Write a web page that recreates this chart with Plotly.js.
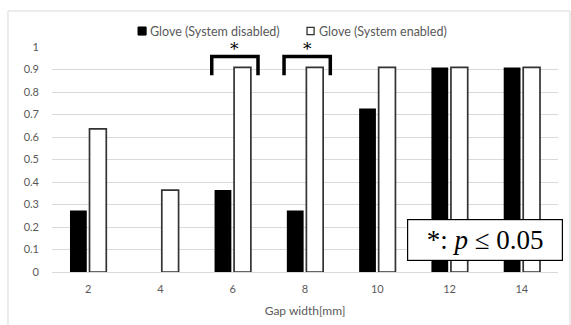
<!DOCTYPE html>
<html><head><meta charset="utf-8">
<script src="https://cdn.plot.ly/plotly-3.0.1.min.js"></script>
<style>body{margin:0;background:#fff}#c{width:571px;height:325px}</style>
</head><body><div id="c"></div>
<script>
var categories = ["2","4","6","8","10","12","14"];
var seriesNames = ["Glove (System disabled)", "Glove (System enabled)"];
var disabledValues = [0.273, 0, 0.364, 0.273, 0.727, 0.909, 0.909];
var enabledValues = [0.636, 0.364, 0.909, 0.909, 0.909, 0.909, 0.909];
var yTicks = [0,0.1,0.2,0.3,0.4,0.5,0.6,0.7,0.8,0.9,1];
var yTickLabels = ["0","0.1","0.2","0.3","0.4","0.5","0.6","0.7","0.8","0.9","1"];
var sigCategories = [2, 3];

var font = "Lato, 'Open Sans', sans-serif";
var traces = [
  {type:"bar", name:seriesNames[0], x:categories, y:disabledValues,
   marker:{color:"#000000", line:{color:"#000000", width:0}}},
  {type:"bar", name:seriesNames[1], x:categories, y:enabledValues,
   marker:{color:"#ffffff", line:{color:"#333333", width:1.7}}}
];
var shapes = [
  {type:"rect", xref:"paper", yref:"paper", x0:-0.087, x1:1.0237, y0:-0.25, y1:1.16,
   line:{color:"#d9d9d9", width:1}, fillcolor:"rgba(0,0,0,0)", layer:"below"},
  {type:"rect", xref:"paper", yref:"paper", x0:0.170, x1:0.186, y0:1.053, y1:1.089,
   line:{color:"#000", width:1}, fillcolor:"#000"},
  {type:"rect", xref:"paper", yref:"paper", x0:0.504, x1:0.518, y0:1.055, y1:1.087,
   line:{color:"#333", width:1.3}, fillcolor:"#fff"}
];
var annotations = [
  {xref:"paper", yref:"paper", x:0.190, y:1.071, xanchor:"left", yanchor:"middle", showarrow:false,
   text:seriesNames[0], font:{family:font, size:12.5, color:"#595959"}},
  {xref:"paper", yref:"paper", x:0.524, y:1.071, xanchor:"left", yanchor:"middle", showarrow:false,
   text:seriesNames[1], font:{family:font, size:12.5, color:"#595959"}}
];
sigCategories.forEach(function(i){
  shapes.push({type:"path", xref:"x", yref:"y",
    path:"M "+(i-0.29)+" 0.875 L "+(i-0.29)+" 0.958 L "+(i+0.35)+" 0.958 L "+(i+0.35)+" 0.875",
    line:{color:"#000000", width:3.5}});
  annotations.push({xref:"x", yref:"y", x:i+0.03, y:0.99, yanchor:"middle", showarrow:false,
    text:"*", font:{family:"'DejaVu Serif', serif", size:17, color:"#000"}});
});
annotations.push({xref:"paper", yref:"paper", x:1.01, y:0.049, xanchor:"right", yanchor:"bottom",
  showarrow:false, text:"*: <i>p</i> ≤ 0.05", bordercolor:"#000", borderwidth:1.2, borderpad:0,
  width:154, height:40, align:"center", valign:"middle",
  bgcolor:"#ffffff", font:{family:"'Liberation Serif', 'DejaVu Serif', serif", size:27, color:"#000"}});

var layout = {
  width:571, height:325,
  margin:{l:52, r:13, t:47, b:53},
  paper_bgcolor:"#ffffff", plot_bgcolor:"#ffffff",
  font:{family:font, size:11, color:"#595959"},
  barmode:"group", bargap:0.46, bargroupgap:0.14,
  showlegend:false,
  xaxis:{type:"category", showgrid:false, zeroline:false, showline:false, ticks:"",
    tickfont:{family:font, size:11, color:"#595959"}, ticklabelstandoff:9,
    title:{text:"Gap width[mm]", font:{family:font, size:12, color:"#595959"}, standoff:12}},
  yaxis:{range:[0,1], tickvals:yTicks, ticktext:yTickLabels, showgrid:true, gridcolor:"#d9d9d9",
    gridwidth:1, zeroline:true, zerolinecolor:"#d9d9d9", showline:false, ticks:"",
    tickfont:{family:font, size:11, color:"#595959"}, ticklabelstandoff:12},
  shapes:shapes, annotations:annotations
};
Plotly.newPlot("c", traces, layout, {displayModeBar:false, staticPlot:true});
</script></body></html>
